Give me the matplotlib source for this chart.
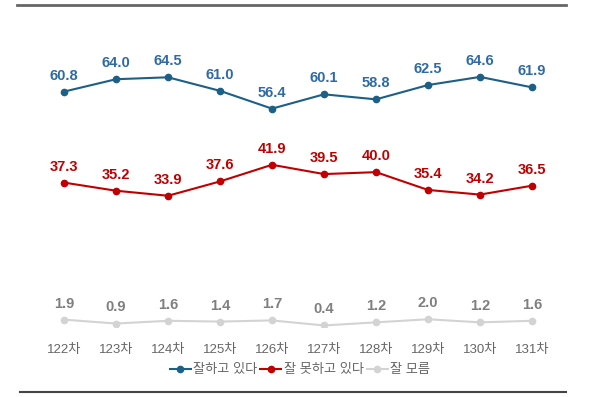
import matplotlib
matplotlib.use('Agg')
import matplotlib.pyplot as plt
from matplotlib.lines import Line2D

plt.rcParams['font.family'] = ['Liberation Sans', 'Noto Sans CJK KR', 'DejaVu Sans']

rounds = ['122차', '123차', '124차', '125차', '126차', '127차', '128차', '129차', '130차', '131차']
good = [60.8, 64.0, 64.5, 61.0, 56.4, 60.1, 58.8, 62.5, 64.6, 61.9]
bad = [37.3, 35.2, 33.9, 37.6, 41.9, 39.5, 40.0, 35.4, 34.2, 36.5]
unknown = [1.9, 0.9, 1.6, 1.4, 1.7, 0.4, 1.2, 2.0, 1.2, 1.6]

series = [
    ('잘하고 있다', good, '#1c5f87', '#2e6aa6'),
    ('잘 못하고 있다', bad, '#c00000', '#c00000'),
    ('잘 모름', unknown, '#d3d3d3', '#7f7f7f'),
]

fig = plt.figure(figsize=(6.0, 3.97), dpi=100)
ax = fig.add_axes([38 / 600, 70 / 397, 520 / 600, 271 / 397])
x = list(range(len(rounds)))

for name, vals, lc, tc in series:
    ax.plot(x, vals, color=lc, lw=1.5, marker='o', ms=4.5, label=name)
    for xi, v in zip(x, vals):
        ax.annotate(f'{v:.1f}', (xi, v), xytext=(0, 6.5), textcoords='offset points',
                    ha='center', va='bottom', fontsize=10.5, fontweight='bold',
                    color=tc)

ax.set_xlim(-0.5, len(rounds) - 0.5)
ax.set_ylim(0, 70)
ax.set_xticks(x)
ax.set_xticklabels(rounds, fontsize=9.5, color='#666666')
ax.tick_params(axis='x', length=0, pad=12)
ax.set_yticks([])
for s in ax.spines.values():
    s.set_visible(False)

handles = [Line2D([0], [0], color=lc, lw=1.5, marker='o', ms=4.5) for _, _, lc, _ in series]
fig.legend(handles, [s[0] for s in series], loc='center', bbox_to_anchor=(300 / 600, 1 - 370 / 397),
           ncol=3, frameon=False, fontsize=9.5, handlelength=1.6, handletextpad=0.2,
           columnspacing=0.2, labelcolor='#666666')

# top and bottom rules
fig.add_artist(Line2D([17 / 600, 566 / 600], [1 - 5 / 397] * 2, color='#666666', lw=2))
fig.add_artist(Line2D([20 / 600, 566 / 600], [1 - 392 / 397] * 2, color='#444444', lw=1.5))

fig.savefig('out.png', dpi=100)
